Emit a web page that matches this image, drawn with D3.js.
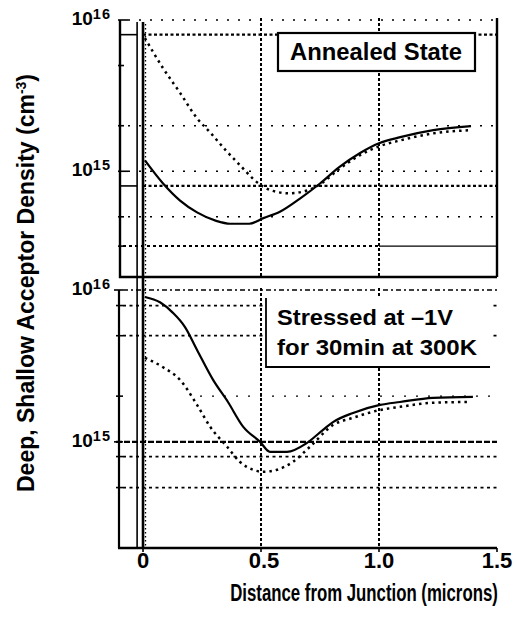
<!DOCTYPE html>
<html>
<head>
<meta charset="utf-8">
<script src="https://cdn.jsdelivr.net/npm/d3@7"></script>
<style>
  html, body { margin: 0; padding: 0; background: #fff; }
  svg { display: block; }
  text { font-family: "Liberation Sans", Arial, Helvetica, sans-serif; font-weight: bold; fill: #000; }
</style>
</head>
<body>
<svg id="chart" width="517" height="623"></svg>
<script>
// ---- Data ----------------------------------------------------------------
// Distance from junction (microns)
const xTicks = [0, 0.5, 1.0, 1.5];
const xTickLabels = ["0", "0.5", "1.0", "1.5"];
const xGridLines = [0.5, 1.0];
const junctionEdge = -0.025;

// Density axis (cm^-3), log scale
const yDomain = [2e14, 1e16];
const yDecades = [1e16, 1e15];
const yDecadeExponents = ["16", "15"];

// Annealed state panel
const annealedSolidX = [0.008, 0.085, 0.157, 0.229, 0.31, 0.37, 0.45, 0.51, 0.58, 0.665, 0.75, 0.83, 0.92, 1.0, 1.09, 1.23, 1.39];
const annealedSolidY = [1.18e15, 8.3e14, 6.4e14, 5.35e14, 4.7e14, 4.5e14, 4.5e14, 4.9e14, 5.4e14, 6.6e14, 8.3e14, 1.06e15, 1.32e15, 1.53e15, 1.68e15, 1.87e15, 1.99e15];
const annealedDottedX = [0.008, 0.085, 0.157, 0.229, 0.284, 0.35, 0.41, 0.49, 0.54, 0.62, 0.70, 0.75, 0.83, 0.92, 1.0, 1.09, 1.23, 1.39];
const annealedDottedY = [7.6e15, 4.8e15, 3.3e15, 2.24e15, 1.81e15, 1.38e15, 1.1e15, 8.3e14, 7.5e14, 7.15e14, 7.5e14, 8.2e14, 1.03e15, 1.28e15, 1.46e15, 1.6e15, 1.78e15, 1.87e15];
const annealedGridHeavy = [8e15, 8e14];
const annealedGridDotted = [3.2e14];
const annealedGridSparse = [1e16, 2e15, 1e15, 5e14];
const annealedTicks = [1e16, 5e15, 2e15, 1e15, 5e14, 3.2e14];

// Stressed panel (-1 V, 30 min, 300 K)
const stressedSolidX = [0.008, 0.072, 0.127, 0.178, 0.229, 0.297, 0.36, 0.424, 0.496, 0.538, 0.61, 0.695, 0.763, 0.805, 0.89, 1.004, 1.089, 1.229, 1.398];
const stressedSolidY = [9.0e15, 8.3e15, 7.07e15, 5.7e15, 4.03e15, 2.56e15, 1.83e15, 1.26e15, 1.0e15, 8.6e14, 8.6e14, 9.85e14, 1.2e15, 1.35e15, 1.55e15, 1.75e15, 1.83e15, 1.95e15, 1.98e15];
const stressedDottedX = [0.008, 0.085, 0.157, 0.229, 0.284, 0.356, 0.41, 0.466, 0.508, 0.568, 0.636, 0.708, 0.805, 0.89, 1.004, 1.089, 1.229, 1.373];
const stressedDottedY = [3.57e15, 3.1e15, 2.56e15, 1.75e15, 1.26e15, 9.3e14, 7.4e14, 6.55e14, 6.35e14, 6.55e14, 7.4e14, 9.3e14, 1.29e15, 1.44e15, 1.62e15, 1.7e15, 1.81e15, 1.83e15];
const stressedGridDashDot = [1e16];
const stressedGridHeavy = [1e15];
const stressedGridDotted = [7.9e15, 5e15, 8e14, 5e14];
const stressedGridSparse = [2e15];
const stressedTicks = [1e16, 7.9e15, 5e15, 2e15, 1e15, 8e14, 5e14];

const annealedLabel = "Annealed State";
const stressedLabel = ["Stressed at \u20131V", "for 30min at 300K"];
const xTitle = "Distance from Junction (microns)";
const yTitle = "Deep, Shallow Acceptor Density (cm";

// ---- Layout ----------------------------------------------------------------
const svg = d3.select("#chart");
const left = 120, right = 497;
const x = d3.scaleLinear().domain([-0.0975, 1.5]).range([left, right]);
const panels = [
  { top: 20, bottom: 277 },
  { top: 290, bottom: 548 }
];
panels.forEach(p => { p.y = d3.scaleLog().domain(yDomain).range([p.bottom, p.top]); });
const [pA, pS] = panels;

const g = svg.append("g");

function hLine(p, v, x0, x1, dash, width) {
  g.append("line")
    .attr("x1", x0).attr("x2", x1)
    .attr("y1", p.y(v)).attr("y2", p.y(v))
    .attr("stroke", "#000").attr("stroke-width", width)
    .attr("stroke-dasharray", dash);
}

// ---- Grid ------------------------------------------------------------------
// annealed panel
annealedGridSparse.forEach(v => hLine(pA, v, 128, right, "2,9", 1.4));
annealedGridDotted.forEach(v => {
  hLine(pA, v, 123, x(1.0), "3,3", 2);
  hLine(pA, v, x(1.0), right, null, 1.4);
});
annealedGridHeavy.forEach(v => {
  hLine(pA, v, left, x(junctionEdge), null, 1.6);
  hLine(pA, v, x(0), right, "3,2.5", 2.2);
});
// stressed panel
stressedGridSparse.forEach(v => hLine(pS, v, 200, right, "2,10", 1.3));
stressedGridDotted.forEach(v => hLine(pS, v, 123, right, "3,3.5", 1.8));
stressedGridDashDot.forEach(v => hLine(pS, v, 123, right, "5,3,2,3", 1.4));
stressedGridHeavy.forEach(v => hLine(pS, v, 116, right, "6,2", 2.4));

// vertical grid lines
panels.forEach(p => {
  xGridLines.forEach(v => {
    g.append("line")
      .attr("x1", x(v)).attr("x2", x(v))
      .attr("y1", p.top - 2).attr("y2", p.bottom)
      .attr("stroke", "#000").attr("stroke-width", 2)
      .attr("stroke-dasharray", "3,2");
  });
});

// ---- Legend boxes ----------------------------------------------------------
g.append("rect")
  .attr("x", 278).attr("y", 33).attr("width", 197).attr("height", 38)
  .attr("fill", "#fff").attr("stroke", "#000").attr("stroke-width", 2.2);
g.append("text")
  .attr("x", 290).attr("y", 60)
  .attr("font-size", 23)
  .attr("textLength", 172).attr("lengthAdjust", "spacingAndGlyphs")
  .text(annealedLabel);

g.append("rect")
  .attr("x", 266).attr("y", 298).attr("width", 224).attr("height", 69)
  .attr("fill", "#fff").attr("stroke", "none");
g.append("path")
  .attr("d", `M266,298V367H490`)
  .attr("fill", "none").attr("stroke", "#000").attr("stroke-width", 1.8);
const stressedWidths = [176, 200];
stressedLabel.forEach((t, i) => {
  g.append("text")
    .attr("x", 277).attr("y", 325 + i * 29.5)
    .attr("font-size", 22.5)
    .attr("textLength", stressedWidths[i]).attr("lengthAdjust", "spacingAndGlyphs")
    .text(t);
});

// ---- Curves ----------------------------------------------------------------
function drawCurve(p, xs, ys, dotted) {
  const pts = xs.map((v, i) => [v, ys[i]]);
  const line = d3.line()
    .x(d => x(d[0])).y(d => p.y(d[1]))
    .curve(d3.curveMonotoneX);
  g.append("path")
    .datum(pts)
    .attr("d", line)
    .attr("fill", "none")
    .attr("stroke", "#000")
    .attr("stroke-width", dotted ? 2.5 : 2.2)
    .attr("stroke-dasharray", dotted ? "2.5,4" : null)
    .attr("stroke-linecap", "butt");
}
drawCurve(pA, annealedSolidX, annealedSolidY, false);
drawCurve(pA, annealedDottedX, annealedDottedY, true);
drawCurve(pS, stressedSolidX, stressedSolidY, false);
drawCurve(pS, stressedDottedX, stressedDottedY, true);

// ---- Frames and axes -------------------------------------------------------
const frame = g.append("g").attr("stroke", "#000").attr("fill", "none");
// annealed panel: left, bottom, right
frame.append("path").attr("d", `M${left},${pA.top}V${pA.bottom}H${right}`).attr("stroke-width", 2.4);
frame.append("line").attr("x1", right).attr("x2", right).attr("y1", pA.top - 2).attr("y2", pA.bottom).attr("stroke-width", 2.4);
// stressed panel: left axis and bottom axis
frame.append("line").attr("x1", left - 1).attr("x2", left - 1).attr("y1", pS.top).attr("y2", pS.bottom).attr("stroke-width", 2.2);
frame.append("line").attr("x1", left - 2).attr("x2", right).attr("y1", pS.bottom).attr("y2", pS.bottom).attr("stroke-width", 2.6);

// junction double line running through both panels
frame.append("line").attr("x1", x(junctionEdge)).attr("x2", x(junctionEdge))
  .attr("y1", pA.top + 2).attr("y2", pS.bottom).attr("stroke-width", 1.6);
frame.append("line").attr("x1", x(0)).attr("x2", x(0))
  .attr("y1", pA.top + 2).attr("y2", pS.bottom).attr("stroke-width", 2.6);
frame.append("line").attr("x1", x(0) + 2.5).attr("x2", x(0) + 2.5)
  .attr("y1", pA.top + 4).attr("y2", pS.bottom).attr("stroke-width", 1.3)
  .attr("stroke-dasharray", "1.5,2.5");

// left-axis ticks
annealedTicks.forEach(v => {
  const major = yDecades.includes(v);
  frame.append("line")
    .attr("x1", left - 2).attr("x2", left + (major ? 8 : 4))
    .attr("y1", pA.y(v)).attr("y2", pA.y(v))
    .attr("stroke-width", 1.6);
});
stressedTicks.forEach(v => {
  const major = yDecades.includes(v);
  frame.append("line")
    .attr("x1", left - (major ? 6 : 4)).attr("x2", left + 3)
    .attr("y1", pS.y(v)).attr("y2", pS.y(v))
    .attr("stroke-width", 1.6);
});

// x-axis ticks
xTicks.forEach(v => {
  frame.append("line")
    .attr("x1", x(v)).attr("x2", x(v))
    .attr("y1", pS.bottom).attr("y2", pS.bottom + 4)
    .attr("stroke-width", 1.6);
});

// ---- Tick labels -----------------------------------------------------------
panels.forEach(p => {
  yDecades.forEach((v, i) => {
    const t = g.append("text")
      .attr("x", 111).attr("y", p.y(v) + 5)
      .attr("text-anchor", "end")
      .attr("font-size", 19);
    t.append("tspan").text("10");
    t.append("tspan").attr("dy", -6).attr("font-size", 14.5)
      .attr("letter-spacing", 1).text(yDecadeExponents[i]);
  });
});

xTicks.forEach((v, i) => {
  g.append("text")
    .attr("x", x(v) + (i === 1 ? 3 : 0)).attr("y", 568)
    .attr("text-anchor", "middle")
    .attr("font-size", 22)
    .text(xTickLabels[i]);
});

// ---- Axis titles -----------------------------------------------------------
g.append("text")
  .attr("transform", "translate(364,601) scale(0.73,1)")
  .attr("text-anchor", "middle")
  .attr("font-size", 23)
  .text(xTitle);

const yt = g.append("text")
  .attr("transform", "translate(34,283) rotate(-90)")
  .attr("text-anchor", "middle")
  .attr("font-size", 23);
yt.append("tspan").text(yTitle);
yt.append("tspan").attr("dy", -8).attr("font-size", 14).text("-3");
yt.append("tspan").attr("dy", 8).text(")");
</script>
</body>
</html>
